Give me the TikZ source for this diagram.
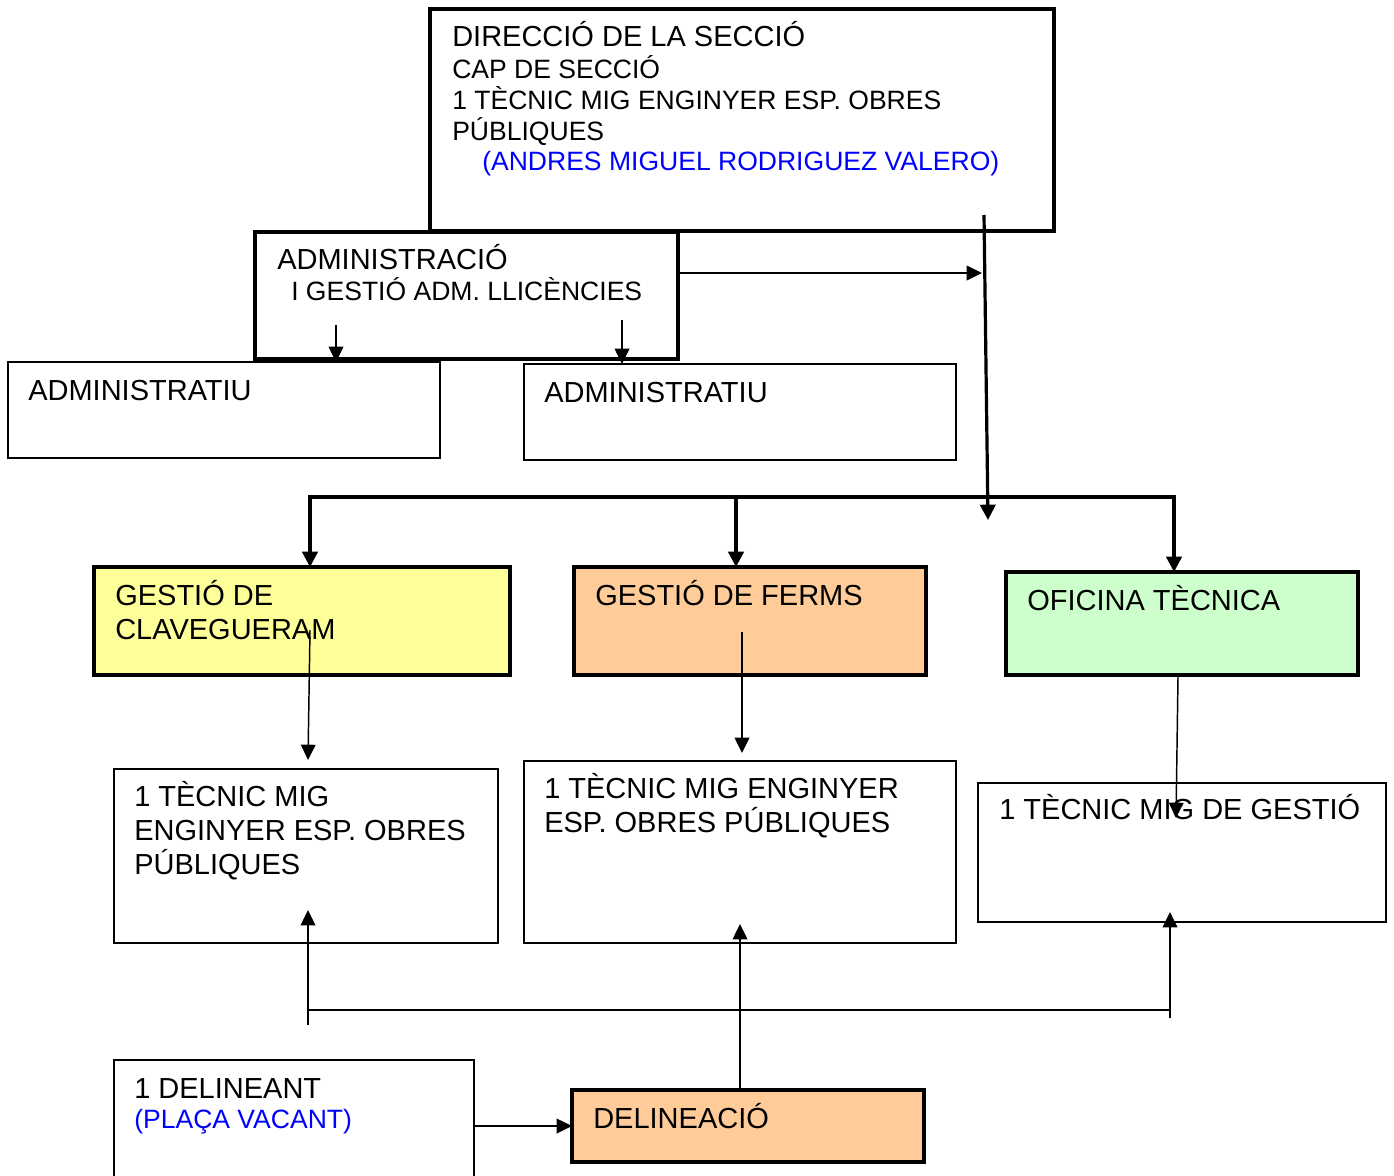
\documentclass[tikz,border=0pt]{standalone}
\usepackage{fontspec}
\setmainfont{Liberation Sans}
\usetikzlibrary{arrows.meta,calc}

\definecolor{clavyellow}{HTML}{FFFF99}
\definecolor{fermsorange}{HTML}{FFCC99}
\definecolor{oficgreen}{HTML}{CCFFCC}
\definecolor{nameblue}{HTML}{0000FF}

\newcommand{\px}{0.75pt}
\newcommand{\bigtxt}{\fontsize{21.75pt}{25pt}\selectfont}
\newcommand{\smalltxt}{\fontsize{19.9pt}{23pt}\selectfont}

\tikzset{
  orgbox/.style={draw, inner sep=0pt, outer sep=0pt, anchor=north west},
  heavybox/.style={orgbox, line width=2.5pt},
  lightbox/.style={orgbox, line width=1.2pt},
  bigline/.style={anchor=base west, inner sep=0pt, font=\bigtxt},
  smallline/.style={anchor=base west, inner sep=0pt, font=\smalltxt},
  heavyarrow/.style={line width=2.4pt, -{Triangle[length=11.5pt,width=11.5pt]}},
  lightarrow/.style={line width=1.1pt, -{Triangle[length=11.5pt,width=11pt]}},
}

\begin{document}
\begin{tikzpicture}[x=0.75pt, y=-0.75pt]

    \useasboundingbox (0,0) rectangle (1394,1175);

    % Boxes of the organisation chart
    \node[heavybox, minimum width=624*\px, minimum height=222*\px] (dir) at (430,9) {};
    \node[heavybox, minimum width=423*\px, minimum height=127*\px] (admin) at (255,232) {};
    \node[lightbox, minimum width=432*\px, minimum height=96*\px] (adm1) at (8,362) {};
    \node[lightbox, minimum width=432*\px, minimum height=96*\px] (adm2) at (524,364) {};
    \node[heavybox, fill=clavyellow, minimum width=416*\px, minimum height=108*\px] (clav) at (94,567) {};
    \node[heavybox, fill=fermsorange, minimum width=352*\px, minimum height=108*\px] (ferms) at (574,567) {};
    \node[heavybox, fill=oficgreen, minimum width=352*\px, minimum height=103*\px] (ofic) at (1006,572) {};
    \node[lightbox, minimum width=384*\px, minimum height=174*\px] (tec1) at (114,769) {};
    \node[lightbox, minimum width=432*\px, minimum height=182*\px] (tec2) at (524,761) {};
    \node[lightbox, minimum width=408*\px, minimum height=139*\px] (tec3) at (978,783) {};
    \node[lightbox, minimum width=360*\px, minimum height=140*\px] (delin) at (114,1060) {};
    \node[heavybox, fill=fermsorange, minimum width=352*\px, minimum height=72*\px] (delcio) at (572,1090) {};

    % Texts, one line at a time
    \node[bigline] (dirT1) at (452,46) {DIRECCIÓ DE LA SECCIÓ};
    \node[smallline] (dirT2) at (452,78) {CAP DE SECCIÓ};
    \node[smallline] (dirT3) at (452,109) {1 TÈCNIC MIG ENGINYER ESP. OBRES};
    \node[smallline] (dirT4) at (452,140) {PÚBLIQUES};
    \node[smallline, text=nameblue] (dirT5) at (482,170) {(ANDRES MIGUEL RODRIGUEZ VALERO)};

    \node[bigline] (adminT1) at (277,269) {ADMINISTRACIÓ};
    \node[smallline] (adminT2) at (291,300) {I GESTIÓ ADM. LLICÈNCIES};
    \node[bigline] (adm1T) at (28,400) {ADMINISTRATIU};
    \node[bigline] (adm2T) at (544,402) {ADMINISTRATIU};

    \node[bigline] (clavT1) at (115,605) {GESTIÓ DE};
    \node[bigline] (clavT2) at (115,639) {CLAVEGUERAM};
    \node[bigline] (fermsT) at (595,605) {GESTIÓ DE FERMS};
    \node[bigline] (oficT) at (1027,610) {OFICINA TÈCNICA};

    \node[bigline] (tec1T1) at (134,806) {1 TÈCNIC MIG};
    \node[bigline] (tec1T2) at (134,840) {ENGINYER ESP. OBRES};
    \node[bigline] (tec1T3) at (134,874) {PÚBLIQUES};
    \node[bigline] (tec2T1) at (544,798) {1 TÈCNIC MIG ENGINYER};
    \node[bigline] (tec2T2) at (544,832) {ESP. OBRES PÚBLIQUES};
    \node[bigline] (tec3T) at (999,819) {1 TÈCNIC MIG DE GESTIÓ};

    \node[bigline] (delinT1) at (134,1098) {1 DELINEANT};
    \node[smallline, text=nameblue] (delinT2) at (134,1128) {(PLAÇA VACANT)};
    \node[bigline] (delcioT) at (593,1128) {DELINEACIÓ};

    % Trunk from the direction down to the bus
    \coordinate (trunktop) at (984,215);
    \coordinate (trunkend) at (988,520);
    \draw[heavyarrow] (trunktop) -- (trunkend);

    % Administration joins the trunk
    \coordinate (adminlink) at (982,273);
    \draw[lightarrow] (admin.east |- adminlink) -- (adminlink);

    % Administration down to the two administratius
    \coordinate (admdropL) at (336,325);
    \coordinate (admdropR) at (622,320);
    \draw[lightarrow] (admdropL) -- (admdropL |- adm1.north);
    \draw[lightarrow] (admdropR) -- (admdropR |- adm2.north);

    % Bus to the three units
    \coordinate (busL) at (310,497);
    \coordinate (busM) at (736,497);
    \coordinate (busR) at (1174,497);
    \draw[line width=2.4pt, line cap=rect] (busL) -- (busR);
    \draw[heavyarrow] (busL) -- (busL |- clav.north);
    \draw[heavyarrow] (busM) -- (busM |- ferms.north);
    \draw[heavyarrow] (busR) -- (busR |- ofic.north);

    % Units down to their technicians
    \coordinate (clavdrop) at (310,630);
    \coordinate (tec1in) at (308,760);
    \draw[lightarrow] (clavdrop) -- (tec1in);
    \coordinate (fermsdrop) at (742,632);
    \coordinate (tec2in) at (742,753);
    \draw[lightarrow] (fermsdrop) -- (tec2in);
    \coordinate (oficdrop) at (1178,677);
    \coordinate (tec3in) at (1176,818);
    \draw[lightarrow] (oficdrop) -- (tec3in);

    % Delineation up to the technicians
    \coordinate (delbusL) at (308,1010);
    \coordinate (delbusR) at (1170,1010);
    \draw[line width=1.1pt] (delbusL) -- (delbusR);
    \coordinate (tec1stub) at (308,1025);
    \coordinate (tec1up) at (308,910);
    \draw[lightarrow] (tec1stub) -- (tec1up);
    \coordinate (tec3stub) at (1170,1018);
    \coordinate (tec3up) at (1170,912);
    \draw[lightarrow] (tec3stub) -- (tec3up);
    \coordinate (tec2up) at (740,924);
    \draw[lightarrow] (tec2up |- delcio.north) -- (tec2up);

    % Delineant to delineació
    \draw[lightarrow] (delin.east |- delcio.west) -- (delcio.west);

\end{tikzpicture}
\end{document}
